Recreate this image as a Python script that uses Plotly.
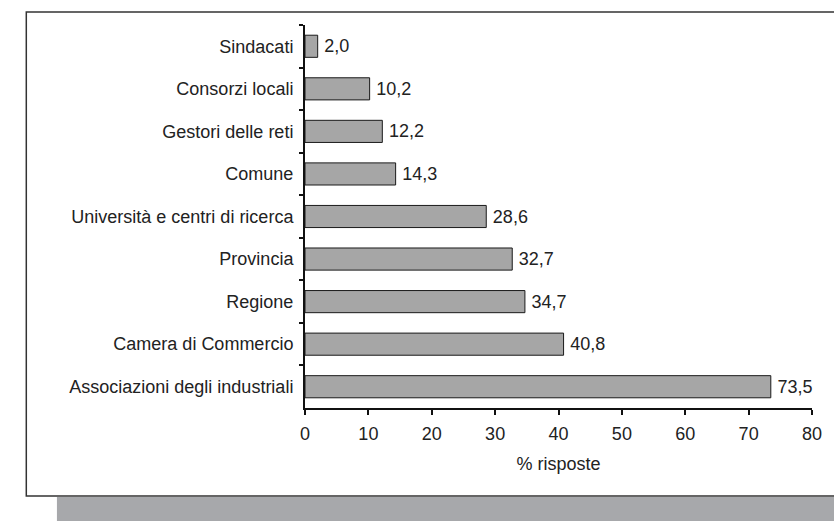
import plotly.graph_objects as go

categories = [
    "Sindacati",
    "Consorzi locali",
    "Gestori delle reti",
    "Comune",
    "Università e centri di ricerca",
    "Provincia",
    "Regione",
    "Camera di Commercio",
    "Associazioni degli industriali",
]
values = [2.0, 10.2, 12.2, 14.3, 28.6, 32.7, 34.7, 40.8, 73.5]
x_title = "% risposte"
x_ticks = [0, 10, 20, 30, 40, 50, 60, 70, 80]

W, H = 834, 521
L, R = 305, 818
T, B = 25, 408
FONT = "Liberation Sans, Arial, sans-serif"
FS = 18


def px_x(p):
    return (p - L) / (R - L)


def px_y(p):
    return (B - p) / (B - T)


fig = go.Figure(
    go.Bar(
        x=values,
        y=categories,
        orientation="h",
        marker=dict(color="#a6a6a6", line=dict(color="#1a1a1a", width=1)),
        texttemplate="\u2009%{x:.1f}",
        textposition="outside",
        textfont=dict(size=FS, color="#222", family=FONT),
        cliponaxis=False,
        width=0.52,
    )
)

fig.update_layout(
    width=W,
    height=H,
    margin=dict(l=L, r=W - R, t=T, b=H - B, pad=0),
    paper_bgcolor="white",
    plot_bgcolor="white",
    separators=",.",
    font=dict(family=FONT, size=FS, color="#222"),
    showlegend=False,
    xaxis=dict(
        range=[0, 80],
        tickvals=x_ticks,
        showgrid=False,
        zeroline=False,
        showline=True,
        linecolor="#111",
        linewidth=2,
        ticks="outside",
        ticklen=5,
        tickwidth=2,
        tickcolor="#111",
        ticklabelstandoff=3,
        tickfont=dict(size=FS, color="#222"),
        title=dict(text=x_title, font=dict(size=FS, color="#222"), standoff=15),
    ),
    yaxis=dict(
        categoryorder="array",
        categoryarray=categories,
        range=[len(categories) - 0.5, -0.5],
        showgrid=False,
        zeroline=False,
        showline=True,
        linecolor="#111",
        linewidth=2,
        ticks="outside",
        tickson="boundaries",
        ticklen=4,
        tickwidth=2,
        tickcolor="#111",
        ticklabelstandoff=6,
        tickfont=dict(size=FS, color="#222"),
    ),
    shapes=[
        dict(
            type="rect", xref="paper", yref="paper",
            x0=px_x(54), x1=px_x(845), y0=px_y(497), y1=px_y(530),
            fillcolor="#a7a8ab", line=dict(width=0), layer="below",
        ),
        dict(
            type="rect", xref="paper", yref="paper",
            x0=px_x(23), x1=px_x(845), y0=px_y(496), y1=px_y(12),
            fillcolor="rgba(0,0,0,0)", line=dict(color="#333", width=1.5),
            layer="below",
        ),
    ],
)

fig.write_html("out.html")
